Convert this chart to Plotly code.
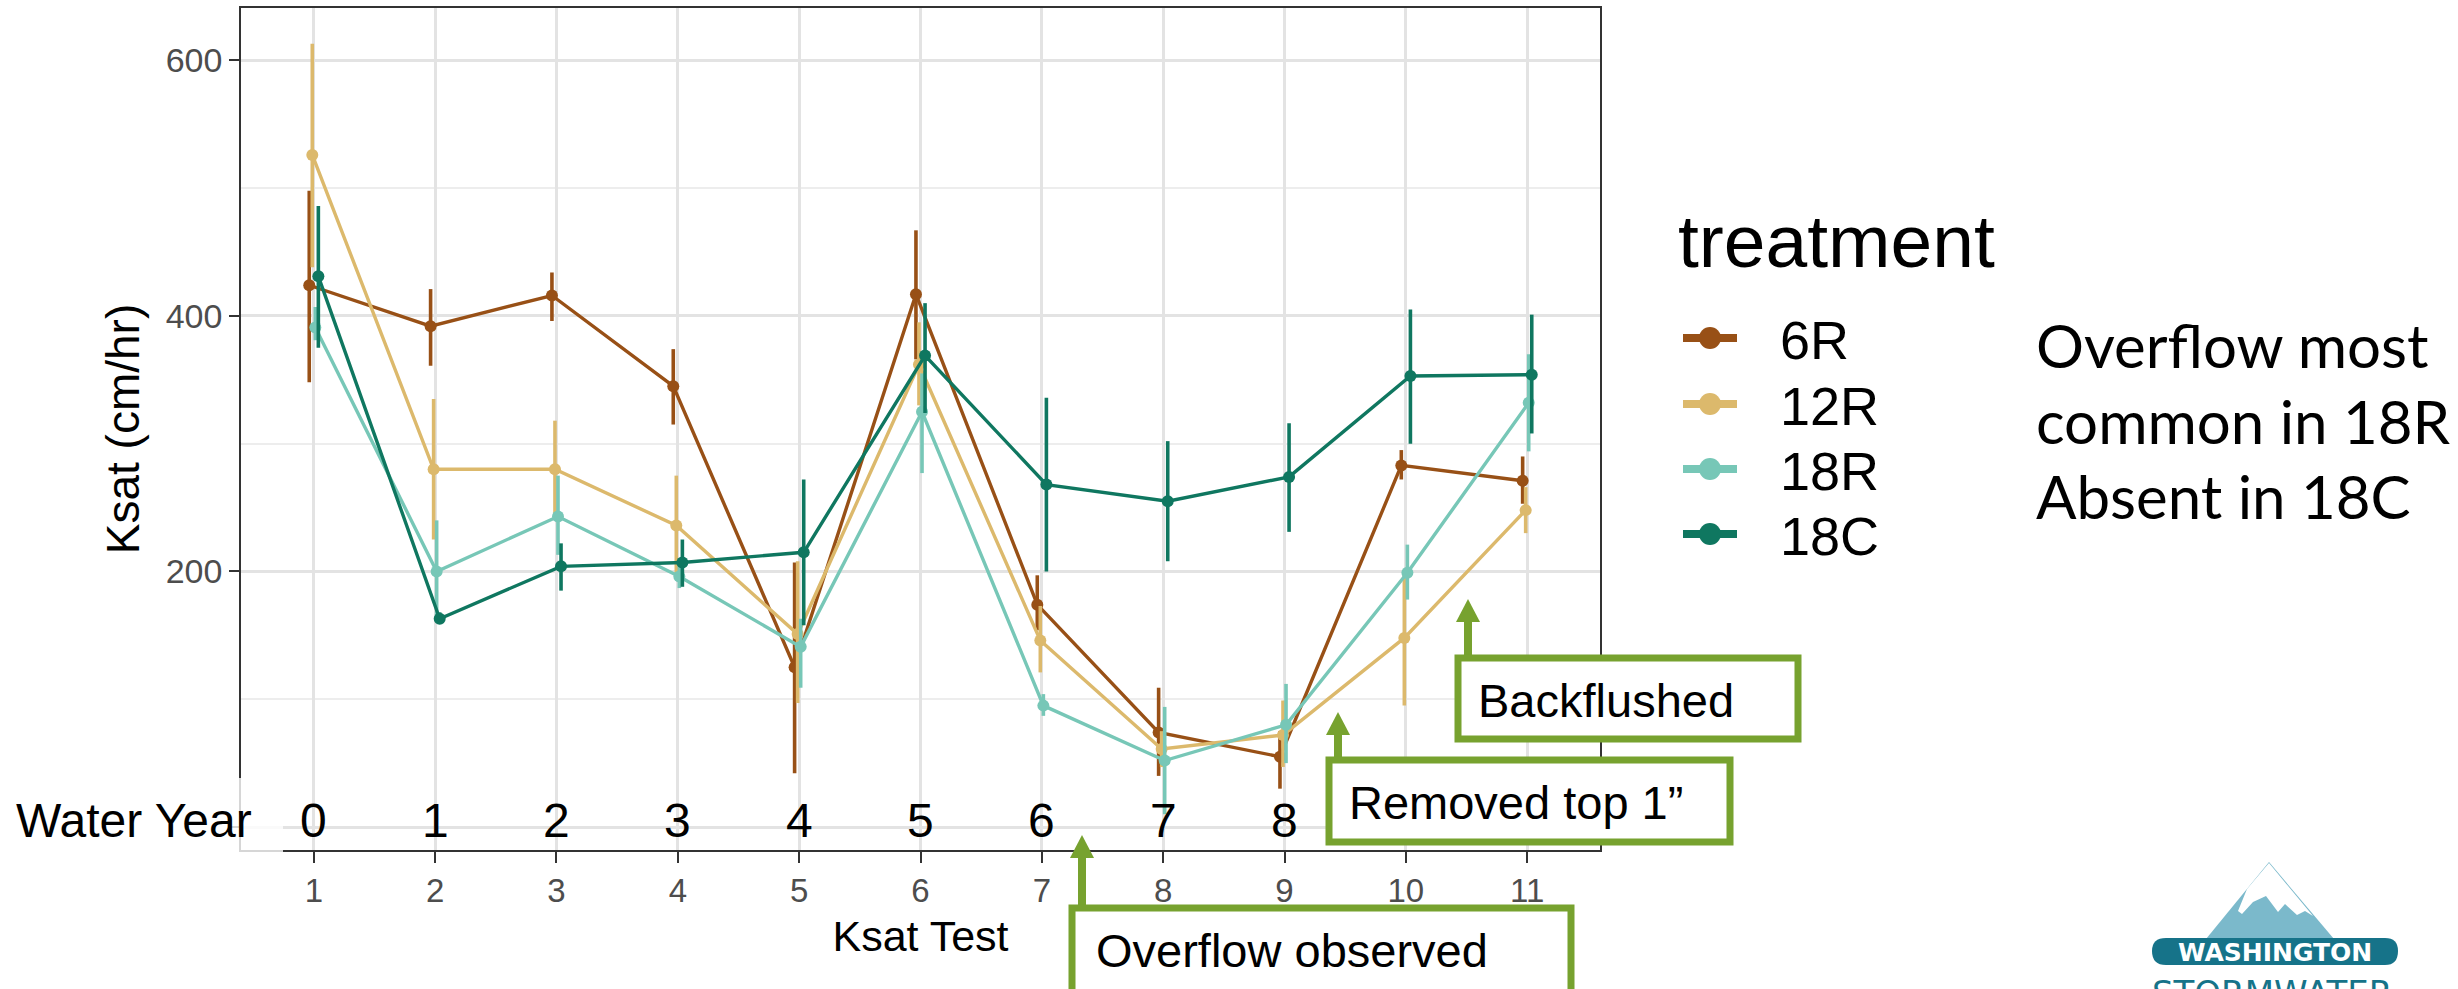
import plotly.graph_objects as go

# ---------------- data ----------------
tests = [1, 2, 3, 4, 5, 6, 7, 8, 9, 10, 11]
water_year = [0, 1, 2, 3, 4, 5, 6, 7, 8]          # shown above tests 1..9
treatments = ["6R", "12R", "18R", "18C"]
y_ticks = [0, 200, 400, 600]
y_tick_text = ["", "200", "400", "600"]           # "0" is hidden behind the Water Year label

mean_6R = [424, 392, 416, 345, 125, 417, 174, 74, 55, 283, 271]
upper_6R = [498, 421, 434, 374, 207, 467, 197, 109, 75, 295, 290]
lower_6R = [348, 361, 396, 315, 42, 366, 154, 40, 30, 272, 253]

mean_12R = [526, 280, 280, 236, 151, 362, 146, 61, 72, 148, 248]
upper_12R = [613, 335, 318, 275, 208, 395, 173, 75, 99, 200, 266]
lower_12R = [438, 225, 241, 196, 97, 330, 121, 47, 47, 95, 230]

mean_18R = [391, 200, 243, 196, 141, 325, 95, 52, 80, 199, 332]
upper_18R = [407, 240, 275, 205, 163, 355, 104, 94, 112, 221, 370]
lower_18R = [381, 161, 213, 187, 109, 277, 87, 10, 50, 178, 294]

mean_18C = [431, 163, 204, 207, 215, 369, 268, 255, 274, 353, 354]
upper_18C = [486, 168, 222, 225, 272, 410, 336, 302, 316, 405, 401]
lower_18C = [375, 160, 185, 188, 158, 324, 200, 208, 231, 300, 308]

means = [mean_6R, mean_12R, mean_18R, mean_18C]
uppers = [upper_6R, upper_12R, upper_18R, upper_18C]
lowers = [lower_6R, lower_12R, lower_18R, lower_18C]

colors = ["#985016", "#DCB96C", "#77C7B7", "#0F7760"]

# ---------------- geometry helpers (pixel -> paper) ----------------
W, H = 2458, 989
def X(px):
    return px / W
def Y(py):
    return 1 - py / H

PANEL_L, PANEL_R, PANEL_T, PANEL_B = 241, 1600, 8, 850
GREEN = "#77A22F"
FONT = "Liberation Sans, Arial, sans-serif"

fig = go.Figure()

dodge = 0.1
n = len(treatments)
for i, (name, m, u, l, c) in enumerate(zip(treatments, means, uppers, lowers, colors)):
    off = (i - (n - 1) / 2) * dodge / n
    fig.add_trace(go.Scatter(
        x=[t + off for t in tests], y=m, name=name,
        mode="lines+markers",
        line=dict(color=c, width=3.4),
        marker=dict(color=c, size=12),
        error_y=dict(type="data", symmetric=False,
                     array=[a - b for a, b in zip(u, m)],
                     arrayminus=[b - a for a, b in zip(l, m)],
                     color=c, thickness=3.6, width=0),
        showlegend=False,
    ))

shapes = []
annotations = []

# white veil over bottom-left corner (behind "Water Year")
shapes.append(dict(type="rect", xref="paper", yref="paper",
                   x0=X(0), x1=X(283), y0=Y(856), y1=Y(778),
                   fillcolor="rgba(255,255,255,0.8)", line=dict(width=0), layer="above"))

# Water year labels
annotations.append(dict(text="Water Year", xref="paper", yref="paper",
                        x=X(14), y=Y(820), xanchor="left", yanchor="middle",
                        showarrow=False, font=dict(family=FONT, size=48, color="black")))
for t, wy in zip(tests, water_year):
    annotations.append(dict(text=str(wy), xref="x", yref="paper", x=t, y=Y(820),
                            xanchor="center", yanchor="middle", showarrow=False,
                            font=dict(family=FONT, size=48, color="black")))

# legend (custom)
annotations.append(dict(text="treatment", xref="paper", yref="paper",
                        x=X(1676), y=Y(241), xanchor="left", yanchor="middle",
                        showarrow=False, font=dict(family=FONT, size=75, color="black")))
leg_y = [338, 404, 469, 534]
for name, c, ly in zip(treatments, colors, leg_y):
    shapes.append(dict(type="line", xref="paper", yref="paper",
                       x0=X(1683), x1=X(1737), y0=Y(ly), y1=Y(ly),
                       line=dict(color=c, width=8), layer="above"))
    shapes.append(dict(type="circle", xref="paper", yref="paper",
                       x0=X(1699), x1=X(1721), y0=Y(ly + 11), y1=Y(ly - 11),
                       fillcolor=c, line=dict(width=0), layer="above"))
    annotations.append(dict(text=name, xref="paper", yref="paper",
                            x=X(1778), y=Y(ly + 2), xanchor="left", yanchor="middle",
                            showarrow=False, font=dict(family=FONT, size=54, color="black")))

# side note
for txt, ly in zip(["Overflow most", "common in 18R", "Absent in 18C"], [343, 419, 494]):
    annotations.append(dict(text=txt, xref="paper", yref="paper",
                            x=X(2034), y=Y(ly + 2), xanchor="left", yanchor="middle",
                            showarrow=False, font=dict(family="Lato, Carlito, sans-serif", size=60, color="black")))

# callout boxes with arrows
def callout(x0, x1, y0, y1, text, tx, ty, ax, tip):
    head = 23
    shapes.append(dict(type="line", xref="paper", yref="paper",
                       x0=X(ax), x1=X(ax), y0=Y(y0), y1=Y(tip + head - 2),
                       line=dict(color=GREEN, width=8), layer="above"))
    shapes.append(dict(type="path", xref="paper", yref="paper",
                       path=f"M {X(ax-12)} {Y(tip+head)} L {X(ax+12)} {Y(tip+head)} L {X(ax)} {Y(tip)} Z",
                       fillcolor=GREEN, line=dict(width=0), layer="above"))
    shapes.append(dict(type="rect", xref="paper", yref="paper",
                       x0=X(x0), x1=X(x1), y0=Y(y1), y1=Y(y0),
                       fillcolor="white", line=dict(color=GREEN, width=7), layer="above"))
    annotations.append(dict(text=text, xref="paper", yref="paper",
                            x=X(tx), y=Y(ty), xanchor="left", yanchor="middle",
                            showarrow=False, font=dict(family=FONT, size=47, color="black")))

callout(1072, 1571, 908, 1000, "Overflow observed", 1094, 950, 1082, 835)
callout(1329, 1730, 760, 842, "Removed top 1\u201d", 1347, 802, 1338, 712)
callout(1458, 1798, 658, 739, "Backflushed", 1476, 700, 1468, 599)

# logo
shapes.append(dict(type="path", xref="paper", yref="paper",
                   path=f"M {X(2206)} {Y(939)} L {X(2269)} {Y(862)} L {X(2334)} {Y(939)} Z",
                   fillcolor="#7BB9CB", line=dict(width=0), layer="above"))
shapes.append(dict(type="path", xref="paper", yref="paper",
                   path=(f"M {X(2247)} {Y(889)} L {X(2269)} {Y(863)} L {X(2313)} {Y(916)} "
                         f"L {X(2305)} {Y(911)} L {X(2297)} {Y(915)} L {X(2285)} {Y(904)} "
                         f"L {X(2278)} {Y(912)} L {X(2266)} {Y(896)} L {X(2253)} {Y(902)} "
                         f"L {X(2242)} {Y(914)} L {X(2238)} {Y(911)} Z"),
                   fillcolor="white", line=dict(width=0), layer="above"))
shapes.append(dict(type="path", xref="paper", yref="paper",
                   path=(f"M {X(2166)} {Y(938)} L {X(2385)} {Y(938)} "
                         f"Q {X(2398)} {Y(938)} {X(2398)} {Y(951)} "
                         f"Q {X(2398)} {Y(965)} {X(2385)} {Y(965)} "
                         f"L {X(2166)} {Y(965)} Q {X(2152)} {Y(965)} {X(2152)} {Y(951)} "
                         f"Q {X(2152)} {Y(938)} {X(2166)} {Y(938)} Z"),
                   fillcolor="#167389", line=dict(width=0), layer="above"))
annotations.append(dict(text="<b>WASHINGTON</b>", xref="paper", yref="paper",
                        x=X(2275), y=Y(952), xanchor="center", yanchor="middle",
                        showarrow=False, font=dict(family="DejaVu Sans, sans-serif", size=25, color="white")))
annotations.append(dict(text="STORMWATER", xref="paper", yref="paper",
                        x=X(2272), y=Y(971), xanchor="center", yanchor="top",
                        showarrow=False, font=dict(family="DejaVu Sans, sans-serif", size=34, color="#167389")))

fig.update_layout(
    width=W, height=H,
    margin=dict(l=0, r=0, t=0, b=0),
    paper_bgcolor="white", plot_bgcolor="white",
    shapes=shapes, annotations=annotations,
    showlegend=False,
    xaxis=dict(domain=[X(PANEL_L), X(PANEL_R)], range=[0.4, 11.6],
               tickmode="array", tickvals=tests, ticktext=[str(t) for t in tests],
               ticks="outside", ticklen=11, tickwidth=2, tickcolor="#333333",
               showline=True, mirror=True, linecolor="#333333", linewidth=1.6,
               showgrid=True, gridcolor="#E3E3E3", gridwidth=2.8, zeroline=False,
               tickfont=dict(family=FONT, size=33, color="#4D4D4D"),
               title=dict(text="Ksat Test", font=dict(family=FONT, size=43, color="black"), standoff=12)),
    yaxis=dict(domain=[Y(PANEL_B), Y(PANEL_T)], range=[-18, 641],
               tickmode="array", tickvals=y_ticks, ticktext=y_tick_text,
               ticks="outside", ticklen=10, tickwidth=2, tickcolor="#333333",
               showline=True, mirror=True, linecolor="#333333", linewidth=1.6,
               showgrid=True, gridcolor="#E3E3E3", gridwidth=2.8, zeroline=False,
               minor=dict(tickvals=[100, 300, 500], showgrid=True, gridcolor="#EDEDED", gridwidth=1.5),
               tickfont=dict(family=FONT, size=34, color="#4D4D4D"),
               title=dict(text="Ksat (cm/hr)", font=dict(family=FONT, size=46, color="black"), standoff=12)),
)

fig.write_html("out.html")
